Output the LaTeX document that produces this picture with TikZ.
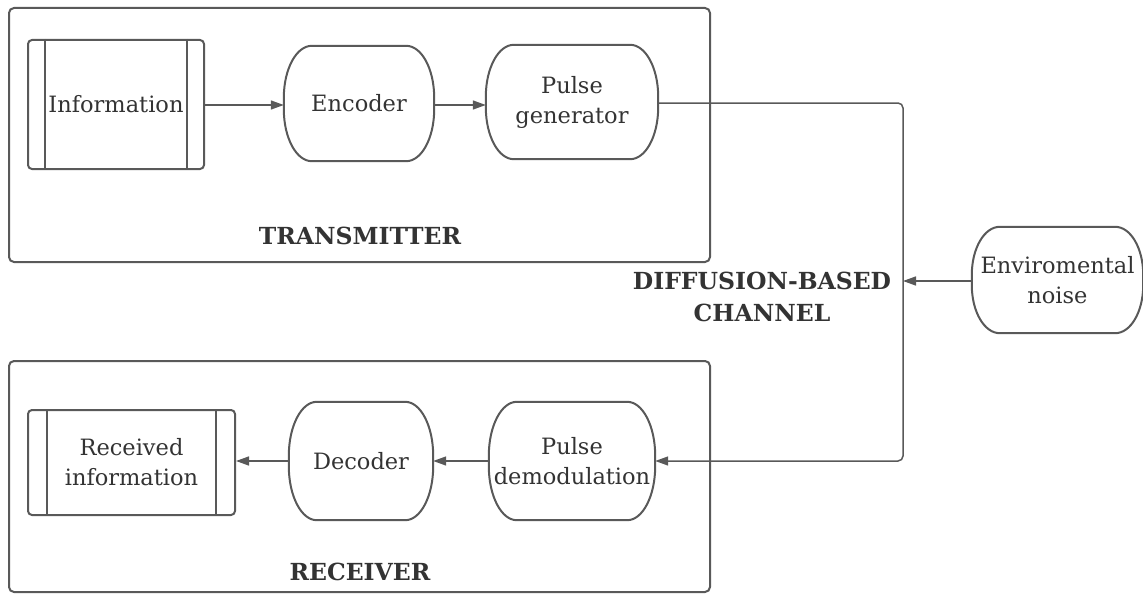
\documentclass[tikz,border=0pt]{standalone}
\usepackage{fontspec}
\setmainfont{DejaVu Serif}
\usetikzlibrary{arrows.meta,calc}

\definecolor{edge}{HTML}{595959}
\definecolor{ink}{HTML}{333333}

\tikzset{
  x=1pt, y=1pt,
  panel/.style={draw=edge, line width=2pt, rounded corners=5pt, inner sep=0pt},
  block/.style={inner sep=0pt, align=center, text=ink, font=\fontsize{22.5}{30}\selectfont},
  predef/.style={block, draw=edge, line width=2pt, rounded corners=4pt},
  title/.style={text=ink, align=center, font=\bfseries\fontsize{23.5}{32}\selectfont},
  link/.style={draw=edge, line width=1.5pt, -{Triangle[length=13pt,width=9pt]}},
}

% capsule outline with elliptical corners around a named node
\newcommand\capsuleshape[3]{%
  \draw[edge, line width=2pt]
    ($(#1.north west)+(#2,0)$) -- ($(#1.north east)+(-#2,0)$)
    arc[start angle=90, end angle=0, x radius=#2, y radius=#3]
    -- ($(#1.south east)+(0,#3)$)
    arc[start angle=0, end angle=-90, x radius=#2, y radius=#3]
    -- ($(#1.south west)+(#2,0)$)
    arc[start angle=-90, end angle=-180, x radius=#2, y radius=#3]
    -- ($(#1.north west)+(0,-#3)$)
    arc[start angle=180, end angle=90, x radius=#2, y radius=#3] -- cycle;}

% side bars of a predefined-process box
\newcommand\sidebars[2]{%
  \draw[edge, line width=2pt] ($(#1.north west)+(#2,0)$) -- ($(#1.south west)+(#2,0)$);
  \draw[edge, line width=2pt] ($(#1.north east)+(-#2,0)$) -- ($(#1.south east)+(-#2,0)$);}

\begin{document}
\begin{tikzpicture}
\useasboundingbox (0,0) rectangle (1143,-594);

% transmitter and receiver panels
\node[panel, minimum width=701, minimum height=254] (tx) at (359.5,-135) {};
\node[panel, minimum width=701, minimum height=231] (rx) at (359.5,-476.5) {};

% transmitter chain
\node[predef, minimum width=176, minimum height=129] (info) at (116,-104.5) {Information};
\sidebars{info}{18}
\node[block, minimum width=150, minimum height=115] (enc) at (359,-103.5) {Encoder};
\capsuleshape{enc}{28}{52}
\node[block, minimum width=172, minimum height=114] (pgen) at (572,-102) {Pulse\\generator};
\capsuleshape{pgen}{28}{52}

% receiver chain
\node[predef, minimum width=207, minimum height=105] (rinfo) at (131.5,-462.5) {Received\\information};
\sidebars{rinfo}{20}
\node[block, minimum width=144, minimum height=118] (dec) at (361,-461) {Decoder};
\capsuleshape{dec}{28}{54}
\node[block, minimum width=166, minimum height=118] (demod) at (572,-461) {Pulse\\demodulation};
\capsuleshape{demod}{28}{54}

% noise source
\node[block, minimum width=171, minimum height=106] (noise) at (1057.5,-280) {Enviromental\\noise};
\capsuleshape{noise}{28}{48}

% labels
\node[title] (txlabel) at (360,-236) {TRANSMITTER};
\node[title] (rxlabel) at (360,-572) {RECEIVER};
\node[title] (chlabel) at (762,-297) {DIFFUSION-BASED\\CHANNEL};

% channel path
\coordinate (top) at (903,-103);
\coordinate (mid) at (903,-281);
\coordinate (bot) at (903,-461);

\draw[link] (info.east |- 0,-105) -- (enc.west |- 0,-105);
\draw[link] (enc.east |- 0,-105) -- (pgen.west |- 0,-105);
\draw[link, rounded corners=5pt] (pgen.east |- top) -- (top) -- (bot) -- (demod.east |- bot);
\draw[link] (noise.west |- mid) -- (mid);
\draw[link] (demod.west) -- (dec.east);
\draw[link] (dec.west) -- (rinfo.east |- dec.west);
\end{tikzpicture}
\end{document}
